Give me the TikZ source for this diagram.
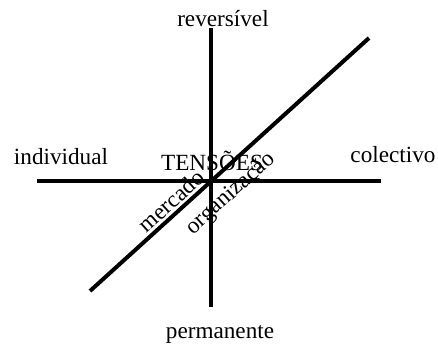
\documentclass[tikz,border=0pt]{standalone}
\usepackage{fontspec}
\setmainfont{Liberation Serif}
\usepackage{tikz}
\usetikzlibrary{positioning}

\tikzset{
  axis/.style={line width=2pt},
  lbl/.style={font=\fontsize{11.6}{14}\selectfont, inner sep=1pt}
}

\begin{document}
\begin{tikzpicture}[x=0.5pt, y=-0.5pt]
\useasboundingbox (0,0) rectangle (438,343);

% Axis ends
\coordinate (top) at (211,28);
\coordinate (bottom) at (211,307);
\coordinate (left) at (37,181);
\coordinate (right) at (381,181);
\coordinate (low) at (90,291);
\coordinate (high) at (369,38);

% Axes
\draw[axis] (top) -- (bottom);
\draw[axis] (left) -- (right);
\draw[axis] (low) -- (high);

% Pole labels
\node[lbl] (reversivel) at (223,19) {reversível};
\node[lbl] (permanente) at (220,334) {permanente};
\node[lbl] (individual) at (61,157) {individual};
\node[lbl] (colectivo) at (393,155) {colectivo};
\node[lbl] (tensoes) at (212,161) {TENSÕES};

% Diagonal labels
\node[lbl, rotate=42] (mercado) at (171,201) {mercado};
\node[lbl, rotate=42] (organizacao) at (231,194) {organização};

\end{tikzpicture}
\end{document}
